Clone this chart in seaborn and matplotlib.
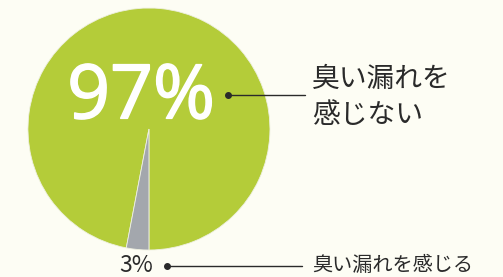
import matplotlib
matplotlib.use("Agg")
import matplotlib.pyplot as plt
import matplotlib.patheffects as pe
import seaborn as sns

# データ
labels = ["臭い漏れを\n感じない", "臭い漏れを感じる"]
values = [97, 3]
pct_labels = ["97%", "3%"]

sns.set_theme(style="white")
plt.rcParams['font.family'] = ['Noto Sans CJK JP', 'DejaVu Sans']

bg = "#fdfdf4"
colors = ["#b4cc39", "#a3a7ad"]

fig = plt.figure(figsize=(5.03, 2.77), dpi=100, facecolor=bg)
ax = fig.add_axes([0, 0, 1, 1])
ax.set_facecolor(bg)

# 円グラフ (下から反時計回り)
ax.pie(values, colors=colors, startangle=-90, counterclock=True,
       radius=1, center=(0, 0),
       wedgeprops={'linewidth': 0.6, 'edgecolor': '#eef0e0'})

ax.set_xlim(-1.231, 2.926)
ax.set_ylim(-1.223, 1.066)
ax.set_aspect('equal')
ax.axis('off')

txt = '#2a2a2a'

# 97% ラベル
ax.text(-0.065, 0.25, pct_labels[0], color='white', fontsize=54,
        family=['Open Sans', 'DejaVu Sans'], ha='center', va='center',
        path_effects=[pe.withStroke(linewidth=1.2, foreground='white')])
ax.plot(0.653, 0.281, 'o', color=txt, markersize=4)
ax.plot([0.653, 1.289], [0.281, 0.281], color=txt, linewidth=1)
ax.text(1.347, 0.265, labels[0], color=txt, fontsize=20,
        ha='left', va='center', linespacing=1.3)

# 3% ラベル
ax.text(0.03, -1.13, pct_labels[1], color=txt, fontsize=16.5,
        ha='right', va='center')
ax.plot(0.149, -1.132, 'o', color=txt, markersize=4)
ax.plot([0.149, 1.264], [-1.132, -1.132], color=txt, linewidth=1)
ax.text(1.347, -1.13, labels[1], color=txt, fontsize=14.5,
        ha='left', va='center')

fig.savefig("out.png", dpi=100, facecolor=bg)
